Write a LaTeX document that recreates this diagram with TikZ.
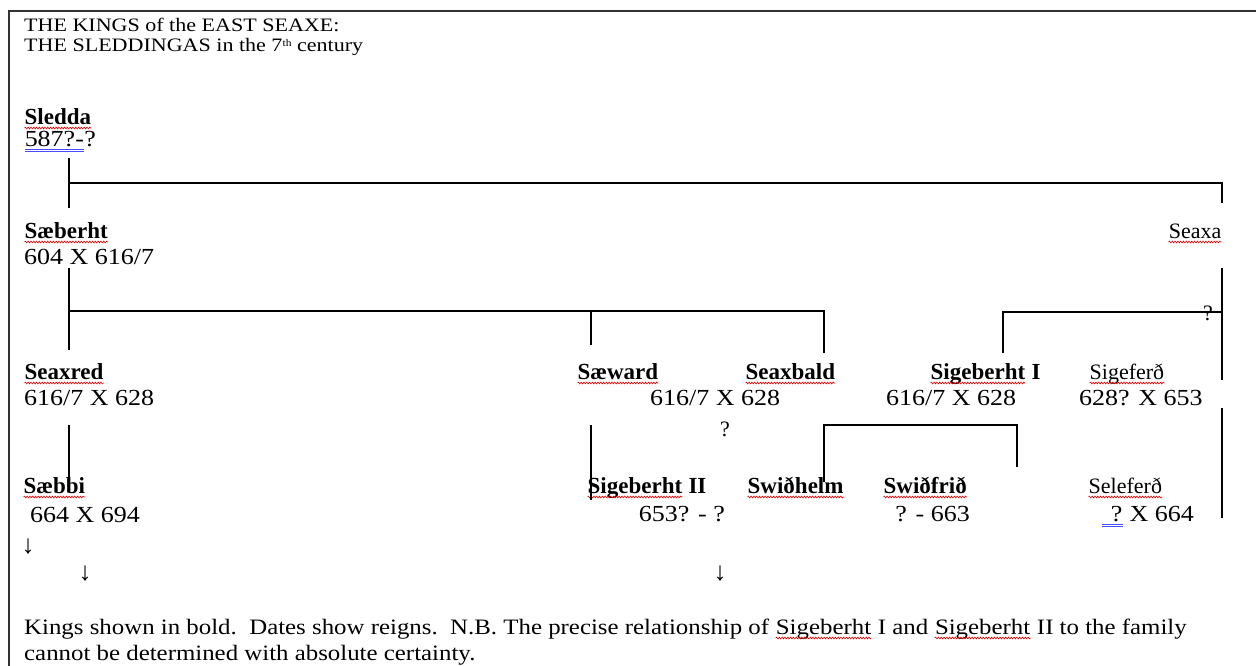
\documentclass[tikz,border=0pt]{standalone}
\usepackage{fontspec}
\setmainfont{Liberation Serif}
\usetikzlibrary{positioning,calc,decorations.pathmorphing}
\newcommand{\spellwave}[1]{\tikz[baseline=(w.base),x=1cm,y=1cm]{\node[inner sep=0pt](w){#1};
  \draw[red!85!black,line width=.6pt,decorate,decoration={snake,amplitude=.9pt,segment length=2.8pt}]
    ([yshift=-4pt]w.base west) -- ([yshift=-4pt]w.base east);}}
\newcommand{\gramline}[1]{\tikz[baseline=(w.base),x=1cm,y=1cm]{\node[inner sep=0pt](w){#1};
  \draw[blue!70,line width=.7pt] ([yshift=-3.5pt]w.base west) -- ([yshift=-3.5pt]w.base east)
    ([yshift=-5.8pt]w.base west) -- ([yshift=-5.8pt]w.base east);}}

\begin{document}
\begin{tikzpicture}[x=1pt,y=-1pt,
    entry/.style={anchor=base west,inner sep=0pt,font=\fontsize{22}{26}\selectfont},
    king/.style={entry,font=\bfseries\fontsize{23}{27}\selectfont},
    reign/.style={entry,font=\fontsize{23}{27}\selectfont\addfontfeatures{FakeStretch=1.13}},
    note/.style={anchor=base west,inner sep=0pt,font=\fontsize{22}{26}\selectfont\addfontfeatures{FakeStretch=1.13}},
    heading/.style={anchor=base west,inner sep=0pt,font=\fontsize{19}{22}\selectfont\addfontfeatures{FakeStretch=1.16}},
    kin/.style={line width=1.4pt}]

    \useasboundingbox (0,0) rectangle (1256,665);
    \clip (0,0) rectangle (1256,665);
    \draw[line width=1.8pt,black!80] (9,11) rectangle (1300,720);

    %--------------------------------------------
    % Heading
    \node[heading](title1) at (24,31){THE KINGS of the EAST SEAXE:};
    \node[heading](title2) at (24,51){THE SLEDDINGAS in the 7\raisebox{5pt}{\fontsize{10}{10}\selectfont th} century};

    %--------------------------------------------
    % Generation 1 and 2
    \node[king](sledda) at (24,124){\spellwave{Sledda}};
    \node[reign](sleddad) at (24,146){\gramline{587?-}?};

    \node[king](saeberht) at (24,238){\spellwave{Sæberht}};
    \node[reign](saeberhtd) at (24,264){604 X 616/7};

    \node[entry,anchor=base east](seaxa) at (1222,238){\spellwave{Seaxa}};

    %--------------------------------------------
    % Generation 3
    \node[king](seaxred) at (24,379){\spellwave{Seaxred}};
    \node[reign](seaxredd) at (24,405){616/7 X 628};

    \node[king](saeward) at (577,379){\spellwave{Sæward}};
    \node[king](seaxbald) at (745,379){\spellwave{Seaxbald}};
    \node[reign](brothersd) at (650,405){616/7 X 628};
    \node[entry](doubt) at (720,436){?};

    \node[king](sigeI) at (930,379){\spellwave{Sigeberht} I};
    \node[reign](sigeId) at (886,405){616/7 X 628};

    \node[entry](sigeferth) at (1089,379){\spellwave{Sigeferð}};
    \node[reign](sigeferthd) at (1079,405){628? X 653};

    %--------------------------------------------
    % Generation 4
    \node[king](saebbi) at (23,493){\spellwave{Sæbbi}};
    \node[reign](saebbid) at (30,522){664 X 694};

    \node[king](sigeII) at (587,493){\spellwave{Sigeberht} II};
    \node[reign,anchor=base east](sigeIId) at (725,521){653? - ?};

    \node[king](swithhelm) at (747,493){\spellwave{Swiðhelm}};
    \node[king](swithfrith) at (883,493){\spellwave{Swiðfrið}};
    \node[reign,anchor=base east](swithfrithd) at (970,521){? - 663};

    \node[entry](seleferth) at (1088,493){\spellwave{Seleferð}};
    \node[reign,anchor=base east](seleferthd) at (1194,521){\gramline{\hspace*{9pt}?} X 664};

    % descendants
    \node[entry,anchor=center,font=\fontsize{26}{30}\selectfont](down1) at (28,547){↓};
    \node[entry,anchor=center,font=\fontsize{26}{30}\selectfont](down2) at (85,574){↓};
    \node[entry,anchor=center,font=\fontsize{26}{30}\selectfont](down3) at (720,574){↓};

    %--------------------------------------------
    % Footnote
    \node[note](foot1) at (24,634){Kings shown in bold.\ \ Dates show reigns.\ \ N.B. The precise relationship of \spellwave{Sigeberht} I and \spellwave{Sigeberht} II to the family};
    \node[note](foot2) at (24,660){cannot be determined with absolute certainty.};

    %--------------------------------------------
    % Lines of descent
    \coordinate (sleddaS) at (69,158);
    \coordinate (bar1L) at (69,183);
    \coordinate (bar1R) at (1222,183);
    \coordinate (seaxaN) at (1222,203);
    \coordinate (saeberhtN) at (69,208);
    \coordinate (seaxaS) at (1222,268);
    \coordinate (seaxaM) at (1222,380);
    \coordinate (seleferthN) at (1222,408);
    \coordinate (seleferthS) at (1222,518);
    \coordinate (saeberhtS) at (69,268);
    \coordinate (bar2L) at (69,311);
    \coordinate (bar2R) at (824,311);
    \coordinate (seaxredN) at (69,350);
    \coordinate (saewardT) at (591,311);
    \coordinate (saewardN) at (591,345);
    \coordinate (seaxbaldN) at (824,353);
    \coordinate (sigeIN) at (1003,353);
    \coordinate (bar3L) at (1003,312);
    \coordinate (bar3R) at (1222,312);
    \coordinate (seaxredS) at (69,425);
    \coordinate (saebbiN) at (69,482);
    \coordinate (saewardS) at (591,425);
    \coordinate (sigeIIN) at (591,500);
    \coordinate (swithhelmN) at (824,482);
    \coordinate (bar4L) at (824,425);
    \coordinate (bar4R) at (1017,425);
    \coordinate (swithfrithN) at (1017,467);

    \draw[kin] (sleddaS) -- (saeberhtN);
    \draw[kin] (bar1L) -- (bar1R) -- (seaxaN);
    \draw[kin] (seaxaS) -- (seaxaM);
    \draw[kin] (seleferthN) -- (seleferthS);
    \draw[kin] (saeberhtS) -- (seaxredN);
    \draw[kin] (bar2L) -- (bar2R) -- (seaxbaldN);
    \draw[kin] (saewardT) -- (saewardN);
    \draw[kin] (sigeIN) -- (bar3L) -- (bar3R);
    \node[entry,anchor=center](doubt2) at (1208,313){?};
    \draw[kin] (seaxredS) -- (saebbiN);
    \draw[kin] (saewardS) -- (sigeIIN);
    \draw[kin] (swithhelmN) -- (bar4L) -- (bar4R) -- (swithfrithN);
\end{tikzpicture}
\end{document}
